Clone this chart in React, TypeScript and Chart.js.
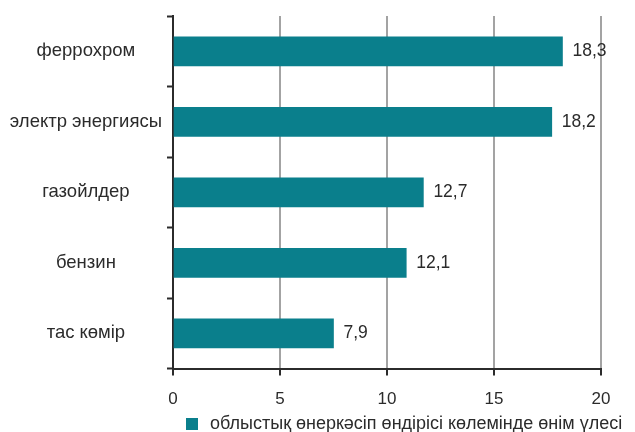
import React, { useEffect, useRef } from "react";
import { Chart, registerables } from "chart.js";

Chart.register(...registerables);

const categories = ["феррохром", "электр энергиясы", "газойлдер", "бензин", "тас көмір"];
// bar lengths as drawn in the picture
const barValues = [18.2, 17.7, 11.7, 10.9, 7.5];
// value labels as printed
const valueLabels = ["18,3", "18,2", "12,7", "12,1", "7,9"];
const xTicks = [0, 5, 10, 15, 20];
const seriesName = "облыстық өнеркәсіп өндірісі көлемінде өнім үлесі";

const TEAL = "#0a7f8c";
const DARK = "#2b2b2b";
const GRID = "#a3a3a3";
const FONT = "'Liberation Sans', Arial, sans-serif";

export default function App() {
  const ref = useRef<HTMLCanvasElement>(null);
  useEffect(() => {
    document.body.style.margin = "0";
    const valuePlugin = {
      id: "valueLabels",
      afterDatasetsDraw(chart: any) {
        const ctx = chart.ctx;
        const meta = chart.getDatasetMeta(0);
        ctx.save();
        ctx.font = `17.5px ${FONT}`;
        ctx.fillStyle = DARK;
        ctx.textBaseline = "middle";
        ctx.textAlign = "left";
        meta.data.forEach((bar: any, i: number) => {
          ctx.fillText(valueLabels[i], bar.x + 10, bar.y);
        });
        ctx.restore();
      },
    };
    const legendPlugin = {
      id: "customLegend",
      afterDraw(chart: any) {
        const ctx = chart.ctx;
        const left = chart.chartArea.left + 13;
        const cy = chart.height - 8;
        ctx.save();
        ctx.fillStyle = TEAL;
        ctx.fillRect(left, cy - 6, 12, 12);
        ctx.font = `18px ${FONT}`;
        ctx.fillStyle = DARK;
        ctx.textBaseline = "middle";
        ctx.textAlign = "left";
        ctx.fillText(seriesName, left + 24, cy);
        ctx.restore();
      },
    };
    const chart = new Chart(ref.current!, {
      type: "bar",
      data: {
        labels: categories,
        datasets: [
          {
            label: seriesName,
            data: barValues,
            backgroundColor: TEAL,
            borderWidth: 0,
            barThickness: 29,
          },
        ],
      },
      options: {
        indexAxis: "y",
        animation: false,
        responsive: false,
        layout: { padding: { top: 14, right: 34, bottom: 8, left: 0 } },
        plugins: {
          legend: { display: false },
          tooltip: { enabled: false },
        },
        scales: {
          x: {
            min: 0,
            max: 20,
            afterBuildTicks: (scale: any) => {
              scale.ticks = xTicks.map((v) => ({ value: v }));
            },
            ticks: {
              color: DARK,
              font: { size: 17, family: FONT },
              padding: 14,
              maxRotation: 0,
            },
            grid: {
              color: (c: any) => (c.index === 0 ? "rgba(0,0,0,0)" : GRID),
              lineWidth: 2,
              tickColor: DARK,
              tickLength: 7,
              tickWidth: 2,
            },
            border: { color: DARK, width: 2 },
          },
          y: {
            afterFit: (scale: any) => {
              scale.width = 173;
            },
            ticks: {
              color: DARK,
              font: { size: 18.5, family: FONT },
              crossAlign: "center",
              padding: 5,
            },
            grid: {
              drawOnChartArea: false,
              color: DARK,
              tickColor: DARK,
              tickLength: 6,
              tickWidth: 2,
            },
            border: { color: DARK, width: 2 },
          },
        },
      },
      plugins: [valuePlugin, legendPlugin],
    } as any);
    return () => chart.destroy();
  }, []);
  return (
    <div style={{ width: 635, height: 432 }}>
      <canvas ref={ref} width={635} height={432} style={{ display: "block" }} />
    </div>
  );
}
